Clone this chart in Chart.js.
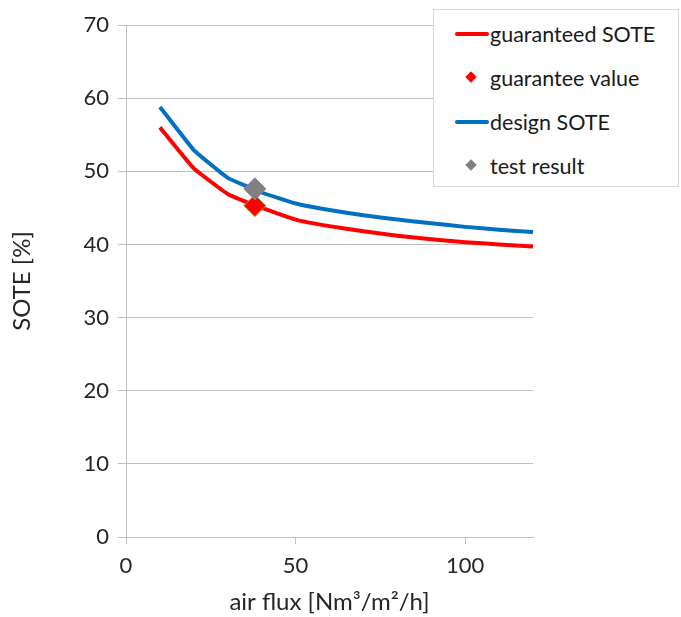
<!DOCTYPE html>
<html>
<head>
<meta charset="utf-8">
<script src="https://cdn.jsdelivr.net/npm/chart.js@4/dist/chart.umd.min.js"></script>
<style>
  html, body { margin:0; padding:0; background:#fff; }
  #wrap { position:relative; width:681px; height:617px; }
  #legend {
    position:absolute; left:433px; top:9px; width:246px; height:178px;
    background:#fff; border:1px solid #d9d9d9; box-sizing:border-box;
    font-family: Lato, "Noto Sans", sans-serif; font-size:21.5px; color:#1a1a1a;
  }
  .row { position:absolute; left:0; height:24px; display:flex; align-items:center; }
  .sym { width:34px; margin-left:21px; position:relative; height:24px; }
  .line { position:absolute; left:0; right:0; top:10px; height:4px; border-radius:2px; }
  .dia { position:absolute; left:12px; top:7px; width:8px; height:8px; transform:rotate(45deg); }
</style>
</head>
<body>
<div id="wrap">
  <canvas id="c" width="681" height="617"></canvas>
  <div id="legend"></div>
</div>
<script>
// x positions of the curves (air flux, Nm3/m2/h)
const fluxX = [10, 20, 30, 40, 50, 60, 70, 80, 90, 100, 110, 120];
const guaranteedSOTE = [56.0, 50.4, 46.9, 45.0, 43.4, 42.5, 41.8, 41.2, 40.7, 40.3, 40.0, 39.7];
const designSOTE = [58.8, 52.9, 49.1, 47.1, 45.6, 44.7, 44.0, 43.4, 42.9, 42.4, 42.0, 41.7];
const guaranteeX = [38];
const guaranteeValue = [45.3];
const testX = [38];
const testResult = [47.6];
const xTicks = [0, 50, 100];

function pts(xs, ys){ return xs.map((x,i)=>({x, y: ys[i]})); }

const FONT = 'Lato, "Noto Sans", sans-serif';
const GRID = '#c0c0c0';
const TXT = '#262626';

new Chart(document.getElementById('c'), {
  type: 'line',
  data: {
    datasets: [
      { label:'guaranteed SOTE', data: pts(fluxX, guaranteedSOTE), borderColor:'#ff0000',
        borderWidth:4, pointRadius:0, tension:0.1, order:3 },
      { label:'guarantee value', data: pts(guaranteeX, guaranteeValue), showLine:false,
        pointStyle:'rectRot', pointRadius:11, backgroundColor:'#ff0000', borderColor:'#9aa43a', borderWidth:1, order:1 },
      { label:'design SOTE', data: pts(fluxX, designSOTE), borderColor:'#0070c0',
        borderWidth:4, pointRadius:0, tension:0.1, order:2 },
      { label:'test result', data: pts(testX, testResult), showLine:false,
        pointStyle:'rectRot', pointRadius:11, backgroundColor:'#808080', borderColor:'#8a78b0', borderWidth:1, order:0 }
    ]
  },
  options: {
    responsive:false, animation:false,
    layout: { padding: { left:0, right:148, top:25, bottom:0 } },
    plugins: { legend:{ display:false }, tooltip:{ enabled:false } },
    scales: {
      x: {
        type:'linear', min:0, max:120,
        afterBuildTicks: s => { s.ticks = xTicks.map(v=>({value:v})); },
        afterFit: s => { s.height = 80; },
        grid: { drawOnChartArea:false, drawTicks:true, tickLength:7, color:GRID },
        border: { display:true, color:GRID, width:1 },
        ticks: { font:{ family:FONT, size:22 }, color:TXT, padding:9, maxRotation:0 },
        title: { display:true, text:'air flux [Nm³/m²/h]', font:{ family:FONT, size:24 }, color:TXT, padding:{ top:2, bottom:0 } }
      },
      y: {
        min:0, max:70,
        afterFit: s => { s.width = 126; },
        grid: { color:GRID, tickLength:8, drawTicks:true },
        border: { display:true, color:GRID, width:1 },
        ticks: { stepSize:10, font:{ family:FONT, size:22 }, color:TXT, padding:9 },
        title: { display:true, text:'SOTE [%]', font:{ family:FONT, size:24 }, color:TXT, padding:{ top:8, bottom:0 } }
      }
    }
  }
});

// legend box drawn inside the plot area, as in the original
const legendItems = [
  { text:'guaranteed SOTE', kind:'line', color:'#ff0000' },
  { text:'guarantee value', kind:'dia', color:'#ff0000' },
  { text:'design SOTE', kind:'line', color:'#0070c0' },
  { text:'test result', kind:'dia', color:'#808080' }
];
const lg = document.getElementById('legend');
legendItems.forEach((it, i)=>{
  const row = document.createElement('div');
  row.className = 'row';
  row.style.top = (12 + i*44) + 'px';
  const sym = document.createElement('div');
  sym.className = 'sym';
  const mark = document.createElement('div');
  mark.className = it.kind;
  mark.style.background = it.color;
  sym.appendChild(mark);
  const t = document.createElement('span');
  t.textContent = it.text;
  t.style.marginLeft = '1px';
  row.appendChild(sym); row.appendChild(t);
  lg.appendChild(row);
});
</script>
</body>
</html>
